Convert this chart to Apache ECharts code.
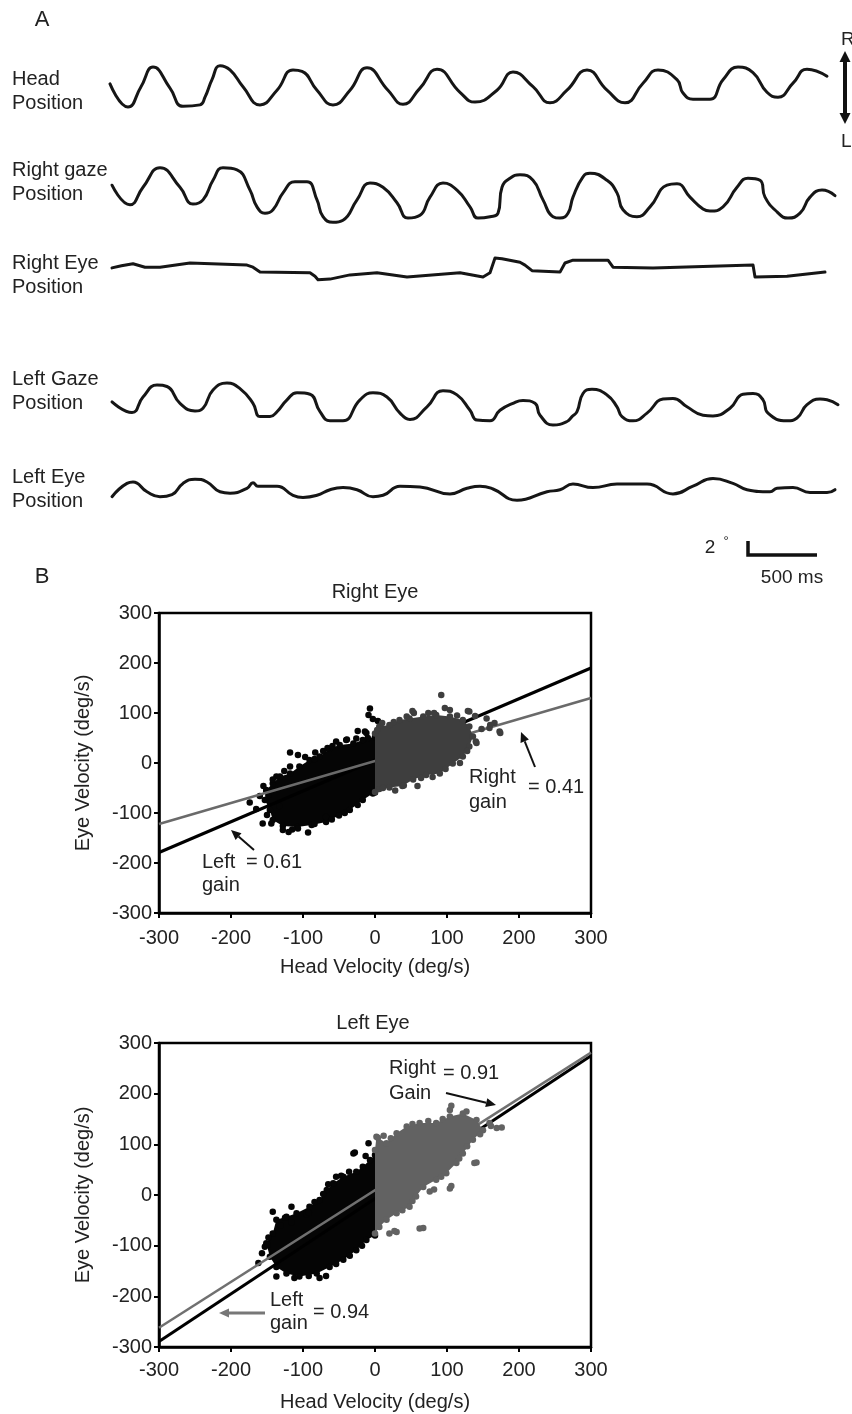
<!DOCTYPE html>
<html><head><meta charset="utf-8">
<script src="https://cdn.jsdelivr.net/npm/echarts@6.0.0/dist/echarts.min.js"></script>
<style>html,body{margin:0;padding:0;background:#fff}#c{width:852px;height:1414px}</style>
</head><body><div id="c"></div>
<script>
// ---------- Panel A traces: [time ms, position deg] ----------
const headPos = [[0,0.3],[126,-3.0],[217,-0.1],[301,2.7],[420,-0.3],[511,-2.9],[630,-2.7],[665,-1.6],[714,0.9],[770,2.9],[840,2.3],[931,-0.1],[1050,-2.7],[1169,-0.6],[1281,2.3],[1344,2.1],[1449,-0.6],[1561,-2.7],[1680,-0.6],[1799,2.6],[1946,-0.6],[2051,-2.6],[2170,-0.3],[2289,2.4],[2450,-0.9],[2555,-2.3],[2709,-0.6],[2821,2.0],[2961,-0.1],[3080,-2.4],[3199,-0.6],[3339,2.3],[3479,-0.6],[3605,-2.4],[3731,0.4],[3836,2.3],[3969,0.9],[4011,-1.0],[4081,-1.9],[4200,-1.9],[4291,0.9],[4396,2.7],[4501,1.9],[4599,-0.9],[4676,-1.6],[4781,0.4],[4879,2.4],[5019,1.4]];
const rightGaze = [[14,1.4],[140,-1.4],[231,1.1],[350,3.9],[490,1.1],[581,-1.3],[651,-0.7],[721,2.1],[791,3.9],[889,3.6],[980,0.7],[1029,-1.7],[1085,-2.6],[1141,-2.1],[1211,0.3],[1295,1.9],[1379,1.9],[1449,-0.7],[1491,-3.1],[1561,-3.9],[1631,-3.6],[1729,-0.7],[1820,1.7],[1911,1.1],[2009,-1.1],[2086,-3.3],[2170,-2.9],[2240,-0.3],[2331,1.7],[2429,0.7],[2520,-1.7],[2576,-3.3],[2660,-3.1],[2716,-2.6],[2744,1.1],[2800,2.4],[2870,2.9],[2961,2.1],[3031,-0.7],[3101,-3.1],[3150,-3.3],[3206,-2.6],[3241,-0.3],[3311,2.6],[3360,3.1],[3479,2.1],[3549,0.3],[3591,-2.1],[3689,-3.1],[3780,-1.7],[3899,1.4],[3969,1.6],[4060,-0.3],[4151,-2.0],[4200,-2.3],[4291,-1.7],[4389,1.1],[4466,2.4],[4550,2.1],[4585,-0.3],[4669,-2.4],[4746,-3.3],[4830,-2.6],[4900,-0.3],[4984,0.7],[5075,-0.1]];
const rightEye = [[14,0.3],[80,0.6],[161,0.9],[245,0.4],[350,0.4],[560,1.0],[959,0.7],[1001,0.4],[1050,-0.3],[1400,-0.4],[1435,-0.9],[1456,-1.4],[1540,-1.3],[1680,-0.7],[1869,-0.4],[2079,-1.0],[2450,-0.4],[2611,-1.0],[2660,-0.4],[2695,1.7],[2744,1.6],[2870,1.1],[2905,0.7],[2954,-0.1],[3150,-0.3],[3185,1.0],[3241,1.4],[3486,1.4],[3521,0.4],[3801,0.3],[4501,0.7],[4515,-1.0],[4739,-0.9],[5005,-0.3]];
const leftGaze = [[14,0.3],[154,-1.2],[231,1.0],[329,2.7],[399,2.5],[490,0.1],[595,-1.0],[651,-0.6],[721,2.0],[819,3.0],[910,2.2],[1001,0.1],[1050,-1.8],[1120,-1.8],[1169,-1.1],[1239,0.6],[1309,1.6],[1400,1.4],[1470,-1.1],[1540,-2.4],[1631,-2.4],[1750,0.6],[1841,1.6],[1939,1.0],[2030,-1.3],[2100,-2.2],[2219,-0.4],[2331,1.9],[2429,1.3],[2520,-0.9],[2569,-2.3],[2660,-2.4],[2730,-0.9],[2821,0.1],[2891,0.5],[2975,0.1],[3010,-1.6],[3101,-3.0],[3199,-2.5],[3234,-1.8],[3269,-1.1],[3311,1.5],[3374,2.1],[3479,1.3],[3549,-0.4],[3584,-1.8],[3661,-2.4],[3759,-1.3],[3871,0.7],[3941,0.8],[4039,-0.4],[4151,-1.6],[4221,-1.7],[4340,-0.6],[4431,1.4],[4501,1.5],[4571,0.6],[4606,-1.3],[4739,-2.4],[4809,-2.0],[4879,-0.1],[4970,0.7],[5019,0.6],[5096,-0.1]];
const leftEye = [[14,-1.1],[119,0.8],[161,1.0],[259,-0.4],[350,-1.1],[434,-0.8],[511,0.8],[595,1.4],[679,1.0],[770,-0.4],[840,-0.6],[959,0.1],[1001,0.9],[1036,0.4],[1169,0.4],[1281,-0.9],[1351,-1.2],[1449,-0.9],[1540,-0.1],[1631,0.2],[1729,-0.1],[1841,-1.1],[1911,-0.9],[2030,0.4],[2170,0.3],[2380,-0.7],[2499,0.1],[2590,0.4],[2681,0.0],[2849,-1.6],[3059,-0.4],[3150,-0.1],[3241,0.7],[3381,0.2],[3549,0.7],[3759,0.7],[3941,-0.7],[4081,0.4],[4221,1.5],[4361,0.8],[4459,-0.1],[4620,-0.4],[4669,0.1],[4781,0.2],[4900,-0.5],[5019,-0.5],[5075,-0.1]];
const traceLabels = ['Head\nPosition','Right gaze\nPosition','Right Eye\nPosition','Left Gaze\nPosition','Left Eye\nPosition'];

// ---------- Panel B: [head velocity, eye velocity] deg/s ----------
const velTicks = [-300,-200,-100,0,100,200,300];
// Right eye: dense-cloud outlines and scattered outlying points
const reLeftOutline = [[0,52],[-10,50],[-17,46],[-30,39],[-49,36],[-63,29],[-77,13],[-91,6],[-105,-7],[-118,-21],[-132,-27],[-142,-41],[-151,-54],[-153,-74],[-146,-94],[-142,-114],[-128,-126],[-108,-128],[-88,-124],[-68,-118],[-50,-105],[-35,-94],[-17,-74],[-3,-61],[0,-59]];
const reLeftPoints = [[-7,109],[-9,96],[-3,88],[4,84],[-14,63],[-26,49],[-40,46],[-54,43],[-66,30],[-84,8],[-107,16],[-118,-7],[-137,-27],[-151,-56],[-160,-66],[-174,-79],[-144,-121],[-156,-121],[-128,-134],[-107,-131],[-84,-122],[-93,-139],[-68,-108],[-155,-46],[-142,-33],[-118,21],[-83,21],[-59,34],[-39,47],[-24,64],[-12,60],[-133,-86],[-165,-92],[-120,-138],[-97,12],[-72,24],[-126,-16],[-148,-64],[-150,-104],[-115,-133],[-60,-113],[-42,-100],[-24,-84]];
const reRightOutline = [[0,59],[6,73],[20,76],[34,86],[48,89],[67,93],[85,96],[104,93],[122,86],[131,73],[136,53],[131,33],[122,13],[108,-1],[90,-21],[71,-24],[53,-33],[38,-46],[20,-49],[6,-52],[0,-58]];
const reRightPoints = [[92,136],[82,100],[104,106],[54,100],[131,103],[155,89],[173,63],[160,76],[140,43],[11,-50],[97,110],[52,104],[129,104],[139,94],[159,70],[166,80],[174,60],[141,40],[10,80],[3,66],[40,-45],[59,-46],[148,68],[28,-55],[118,0],[26,82],[44,93],[74,100],[114,95],[128,24],[98,-12],[80,-28],[64,-30]];
const reLeftGainLine = [[-300,-179],[300,190]];
const reRightGainLine = [[-300,-122],[300,130]];
// Left eye
const leLeftOutline = [[0,79],[-7,69],[-17,56],[-26,46],[-44,36],[-58,23],[-67,10],[-77,-10],[-91,-23],[-109,-36],[-123,-43],[-137,-49],[-142,-76],[-151,-95],[-146,-122],[-137,-142],[-123,-155],[-105,-161],[-81,-155],[-63,-142],[-44,-128],[-26,-109],[-12,-89],[0,-80]];
const leLeftPoints = [[-9,102],[-30,82],[-54,36],[-142,-33],[-116,-23],[-95,-38],[-116,-54],[-153,-102],[-137,-161],[-77,-164],[-68,-160],[-162,-134],[-149,-98],[-125,-45],[-13,77],[-28,84],[-65,21],[-47,38],[-157,-115],[-92,-35],[-36,46],[-72,2],[-84,-14],[-131,-60],[-148,-84],[-112,-164],[-92,-160],[-54,-136],[-35,-120],[-18,-100]];
const leRightOutline = [[0,89],[2,115],[16,102],[30,122],[44,135],[62,142],[85,142],[104,155],[122,161],[141,148],[150,128],[136,109],[122,82],[113,63],[99,43],[85,30],[67,16],[57,-3],[48,-23],[30,-36],[16,-49],[6,-63],[0,-76]];
const leRightPoints = [[104,168],[127,165],[106,176],[138,63],[141,64],[104,13],[76,7],[62,-66],[67,-65],[20,-76],[30,-73],[27,-71],[169,132],[159,142],[176,133],[161,136],[4,113],[12,117],[82,11],[106,18],[22,112],[52,140],[74,146],[94,150],[146,120],[128,96],[117,72],[92,36],[52,-12],[38,-30]];
const leLeftGainLine = [[-300,-289],[300,275]];
const leRightGainLine = [[-300,-262],[300,281]];

// ---------- chart ----------
const FONT = "'Liberation Sans', Arial, sans-serif";
const chart = echarts.init(document.getElementById('c'), null, {renderer:'canvas'});
const traceTops = [51,160,235,369,454];
const traces = [headPos,rightGaze,rightEye,leftGaze,leftEye];
const grids = traceTops.map(t => ({left:110, top:t, width:730, height:70}));
grids.push({left:159, top:613, width:432, height:300, show:true, borderColor:'#000', borderWidth:2.5, backgroundColor:'transparent'});
grids.push({left:159, top:1043, width:432, height:304, show:true, borderColor:'#000', borderWidth:2.5, backgroundColor:'transparent'});

const xAxes = [], yAxes = [];
for (let i=0;i<5;i++){
  xAxes.push({gridIndex:i, type:'value', min:0, max:5110, show:false});
  yAxes.push({gridIndex:i, type:'value', min:-5, max:5, show:false});
}
function velX(g, gap, margin){
  return {gridIndex:g, type:'value', min:velTicks[0], max:velTicks[velTicks.length-1], interval:100,
    name:'Head Velocity (deg/s)', nameLocation:'middle', nameGap:gap,
    nameTextStyle:{fontSize:20, color:'#222', fontFamily:FONT},
    axisLine:{show:true, onZero:false, lineStyle:{color:'#000', width:2.5}},
    axisTick:{show:true, inside:false, length:5, lineStyle:{color:'#000', width:2}},
    axisLabel:{fontSize:20, color:'#222', fontFamily:FONT, margin:margin},
    splitLine:{show:false}};
}
function velY(g){
  return {gridIndex:g, type:'value', min:velTicks[0], max:velTicks[velTicks.length-1], interval:100,
    name:'Eye Velocity (deg/s)', nameLocation:'middle', nameGap:66,
    nameTextStyle:{fontSize:20, color:'#222', fontFamily:FONT},
    axisLine:{show:true, onZero:false, lineStyle:{color:'#000', width:2.5}},
    axisTick:{show:true, inside:false, length:5, lineStyle:{color:'#000', width:2}},
    axisLabel:{fontSize:20, color:'#222', fontFamily:FONT, margin:7},
    splitLine:{show:false}};
}
xAxes.push(velX(5, 44, 15)); yAxes.push(velY(5));
xAxes.push(velX(6, 45, 13)); yAxes.push(velY(6));

const series = [];
traces.forEach((d,i)=>{
  series.push({type:'line', xAxisIndex:i, yAxisIndex:i, data:d, showSymbol:false, silent:true,
    smooth: i===2 ? false : 0.5, clip:false,
    lineStyle:{color:'#161616', width:3, cap:'round', join:'round'}});
});
function cloud(ax, outline, pts, color, z){
  series.push({type:'custom', xAxisIndex:ax, yAxisIndex:ax, z:z, silent:true, data:[[0,0]], clip:true,
    renderItem:(params, api)=>({type:'polygon', shape:{points: outline.map(p=>api.coord(p))}, style:{fill:color}})});
  series.push({type:'scatter', xAxisIndex:ax, yAxisIndex:ax, z:z, silent:true, symbolSize:6.5,
    data: outline.concat(pts), itemStyle:{color:color, opacity:1}});
}
function gainLine(ax, d, color, w, z){
  series.push({type:'line', xAxisIndex:ax, yAxisIndex:ax, z:z, silent:true, data:d, showSymbol:false,
    lineStyle:{color:color, width:w}});
}
cloud(5, reLeftOutline, reLeftPoints, '#050505', 2);
gainLine(5, reLeftGainLine, '#000', 3, 3);
gainLine(5, reRightGainLine, '#6a6a6a', 2.5, 3);
cloud(5, reRightOutline, reRightPoints, '#3e3e3e', 4);
cloud(6, leLeftOutline, leLeftPoints, '#050505', 2);
gainLine(6, leLeftGainLine, '#000', 3, 3);
gainLine(6, leRightGainLine, '#707070', 2.5, 3);
cloud(6, leRightOutline, leRightPoints, '#626262', 4);

// ---------- annotations ----------
function txt(text, x, y, size, align, extra){
  return Object.assign({type:'text', x:x, y:y, silent:true, style:{text:text, font:size+'px '+FONT, fill:'#222', align:align||'left', verticalAlign:'middle'}}, extra||{});
}
function arrow(x1,y1,x2,y2,color,w){
  const a=Math.atan2(y2-y1,x2-x1), L=10, W=4.5;
  const bx=x2-L*Math.cos(a), by=y2-L*Math.sin(a), px=-Math.sin(a), py=Math.cos(a);
  return [
    {type:'line', silent:true, shape:{x1:x1,y1:y1,x2:bx,y2:by}, style:{stroke:color, lineWidth:w}},
    {type:'polygon', silent:true, shape:{points:[[x2,y2],[bx+px*W,by+py*W],[bx-px*W,by-py*W]]}, style:{fill:color}}
  ];
}
const labelTops = [67,158,251,367,465];
const graphics = [];
graphics.push(txt('A', 42, 20, 22, 'center'));
graphics.push(txt('B', 42, 577, 22, 'center'));
traceLabels.forEach((t,i)=>{
  graphics.push({type:'text', x:12, y:labelTops[i], silent:true, style:{text:t, font:'20px '+FONT, fill:'#222', lineHeight:24, verticalAlign:'top'}});
});
// R / L direction arrow
graphics.push({type:'line', silent:true, shape:{x1:845,y1:60,x2:845,y2:115}, style:{stroke:'#111', lineWidth:4}});
graphics.push({type:'polygon', silent:true, shape:{points:[[845,51],[839.5,62],[850.5,62]]}, style:{fill:'#111'}});
graphics.push({type:'polygon', silent:true, shape:{points:[[845,124],[839.5,113],[850.5,113]]}, style:{fill:'#111'}});
graphics.push(txt('R', 841, 40, 19, 'left'));
graphics.push(txt('L', 841, 142, 19, 'left'));
// scale bar
graphics.push({type:'polyline', silent:true, shape:{points:[[748,541],[748,555],[817,555]]}, style:{stroke:'#111', lineWidth:3.5, fill:null}});
graphics.push(txt('2', 710, 548, 19, 'center'));
graphics.push(txt('°', 726, 541, 13, 'center'));
graphics.push(txt('500 ms', 792, 578, 19, 'center'));
// titles
graphics.push(txt('Right Eye', 375, 592, 20, 'center'));
graphics.push(txt('Left Eye', 373, 1023, 20, 'center'));
// plot 1 annotations
graphics.push(txt('Right', 469, 777, 20, 'left'));
graphics.push(txt('gain', 469, 802, 20, 'left'));
graphics.push(txt('= 0.41', 528, 787, 20, 'left'));
graphics.push(...arrow(535, 767, 521, 732, '#111', 2));
graphics.push(txt('Left', 202, 862, 20, 'left'));
graphics.push(txt('gain', 202, 885, 20, 'left'));
graphics.push(txt('= 0.61', 246, 862, 20, 'left'));
graphics.push(...arrow(254, 850, 231, 830, '#111', 2));
// plot 2 annotations
graphics.push(txt('Right', 389, 1068, 20, 'left'));
graphics.push(txt('Gain', 389, 1093, 20, 'left'));
graphics.push(txt('= 0.91', 443, 1073, 20, 'left'));
graphics.push(...arrow(446, 1093, 496, 1105, '#111', 2));
graphics.push(txt('Left', 270, 1300, 20, 'left'));
graphics.push(txt('gain', 270, 1323, 20, 'left'));
graphics.push(txt('= 0.94', 313, 1312, 20, 'left'));
graphics.push(...arrow(265, 1313, 219, 1313, '#777', 3));

chart.setOption({
  animation:false,
  backgroundColor:'#fff',
  grid:grids, xAxis:xAxes, yAxis:yAxes, series:series,
  graphic:{elements:graphics}
});
</script>
</body></html>
